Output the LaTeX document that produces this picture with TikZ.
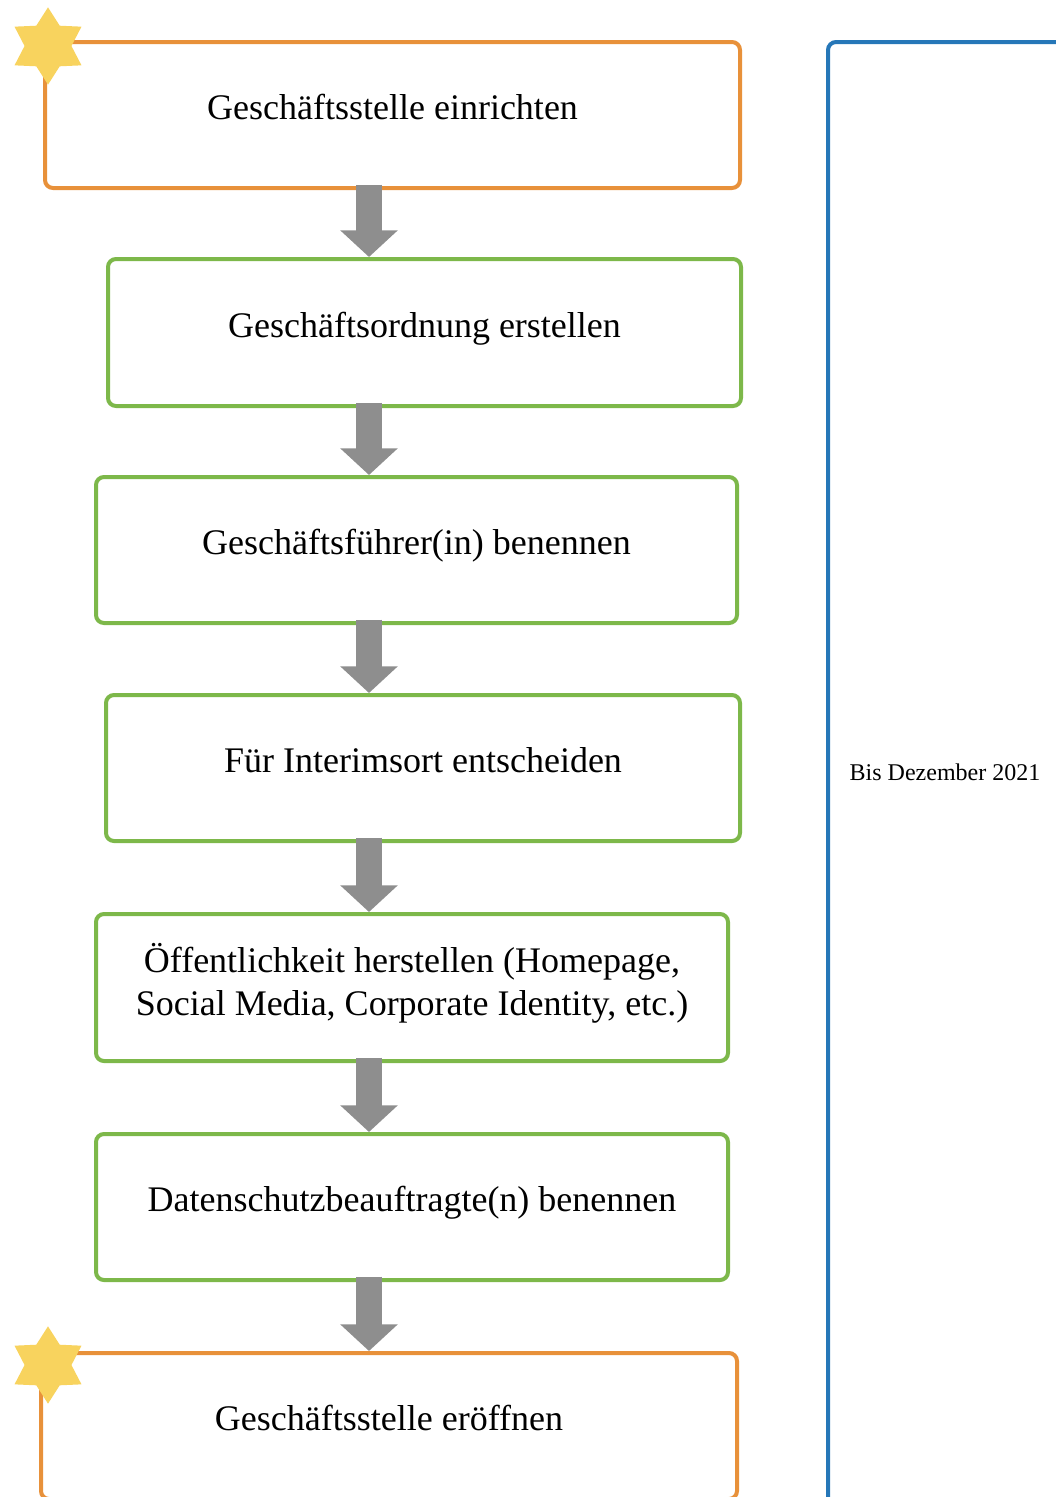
\documentclass[tikz,border=0pt]{standalone}
\usepackage{fontspec}
\setmainfont{Liberation Serif}
\usetikzlibrary{shapes.geometric,arrows.meta}

\definecolor{milestone}{HTML}{E8913A}
\definecolor{task}{HTML}{7DB84A}
\definecolor{period}{HTML}{2677B8}
\definecolor{flow}{HTML}{8E8E8E}
\definecolor{starfill}{HTML}{F8D35E}

\tikzset{
  stepbox/.style={draw, line width=3pt, rounded corners=6pt, fill=white,
    anchor=north west, inner sep=0pt, align=center, text depth=12pt,
    font=\fontsize{27}{32}\selectfont},
  milestonebox/.style={stepbox, draw=milestone},
  taskbox/.style={stepbox, draw=task},
  flowarrow/.style={draw=flow, line width=19.5pt,
    -{Triangle[width=42pt,length=20pt]}, shorten <=-1pt},
  badge/.style={star, star points=6, star point ratio=1.65, fill=starfill,
    draw=none, minimum size=58pt, inner sep=0pt},
}

\begin{document}
\begin{tikzpicture}[x=0.75pt,y=-0.75pt]
  \useasboundingbox (0,0) rectangle (1056,1497);

  % period frame on the right
  \node[draw=period, line width=3pt, rounded corners=6pt, anchor=north west,
        minimum width=260*0.75pt, minimum height=1500*0.75pt, inner sep=0pt]
        (frame) at (826,40) {};
  \node[font=\fontsize{18}{22}\selectfont] (period) at (945,772) {Bis Dezember 2021};

  % process steps
  \node[milestonebox, minimum width=695*0.75pt, minimum height=146*0.75pt]
    (s1) at (43,40) {Geschäftsstelle einrichten};
  \node[taskbox, minimum width=633*0.75pt, minimum height=147*0.75pt]
    (s2) at (106,257) {Geschäftsordnung erstellen};
  \node[taskbox, minimum width=641*0.75pt, minimum height=146*0.75pt]
    (s3) at (94,475) {Geschäftsführer(in) benennen};
  \node[taskbox, minimum width=634*0.75pt, minimum height=146*0.75pt]
    (s4) at (104,693) {Für Interimsort entscheiden};
  \node[taskbox, minimum width=632*0.75pt, minimum height=147*0.75pt]
    (s5) at (94,912) {Öffentlichkeit herstellen (Homepage,\\Social Media, Corporate Identity, etc.)};
  \node[taskbox, minimum width=632*0.75pt, minimum height=146*0.75pt]
    (s6) at (94,1132) {Datenschutzbeauftragte(n) benennen};
  \node[milestonebox, minimum width=696*0.75pt, minimum height=146*0.75pt]
    (s7) at (39,1351) {Geschäftsstelle eröffnen};

  % connectors between steps
  \coordinate (a1) at (369,186);  \coordinate (b1) at (369,257);
  \coordinate (a2) at (369,404);  \coordinate (b2) at (369,475);
  \coordinate (a3) at (369,621);  \coordinate (b3) at (369,693);
  \coordinate (a4) at (369,839);  \coordinate (b4) at (369,912);
  \coordinate (a5) at (369,1059); \coordinate (b5) at (369,1132);
  \coordinate (a6) at (369,1278); \coordinate (b6) at (369,1351);
  \foreach \i in {1,...,6} {
    \draw[flowarrow] (a\i) -- (b\i);
  }

  % milestone stars
  \node[badge] (star1) at (48,46) {};
  \node[badge] (star2) at (48,1365) {};
\end{tikzpicture}
\end{document}
